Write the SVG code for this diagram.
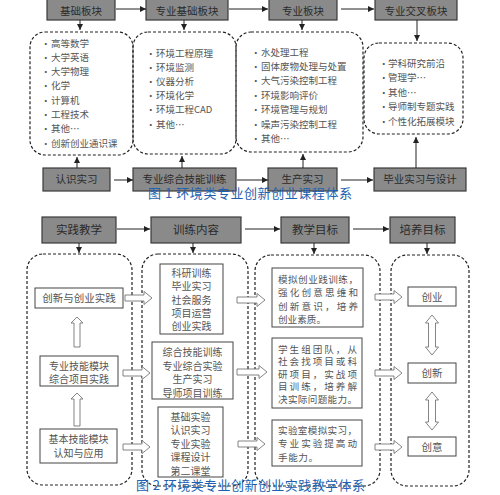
<svg xmlns="http://www.w3.org/2000/svg" width="500" height="495" viewBox="0 0 500 495">
<defs>
<style>
text { font-family: "Noto Sans CJK SC", "Noto Sans", sans-serif; }
.hdr { fill:#8a8a8a; stroke:#3a3a3a; stroke-width:1.2; }
.ht { font-size:10.5px; fill:#2a2a2a; text-anchor:middle; }
.ht2 { font-size:11.5px; fill:#2a2a2a; text-anchor:middle; }
.dash { fill:none; stroke:#222; stroke-width:1.2; stroke-dasharray:3 2; }
.t { font-size:9.5px; fill:#555; }
.tc { font-size:10px; fill:#555; text-anchor:middle; }
.tj { font-size:9.6px; fill:#555; }
.ib { fill:#fff; stroke:#444; stroke-width:1; }
.hol { fill:#fff; stroke:#666; stroke-width:0.8; }
.ln { stroke:#222; stroke-width:1; fill:none; }
.cap { font-size:13px; fill:#2060b0; }
</style>
<marker id="ah" viewBox="0 0 10 10" refX="10" refY="5" markerWidth="6" markerHeight="6" orient="auto" markerUnits="userSpaceOnUse">
<path d="M0,0 L10,5 L0,10 Z" fill="#222"/>
</marker>
</defs>

<!-- ===== Figure 1 ===== -->
<g id="n-jichu"><rect class="hdr" x="47" y="-4" width="68" height="24"/><text class="ht" x="81" y="14.5">基础板块</text></g>
<g id="n-zyjc"><rect class="hdr" x="146" y="-4" width="82" height="24"/><text class="ht" x="187" y="14.5">专业基础板块</text></g>
<g id="n-zy"><rect class="hdr" x="269" y="-4" width="68" height="24"/><text class="ht" x="303" y="14.5">专业板块</text></g>
<g id="n-jc"><rect class="hdr" x="375" y="-4" width="82" height="24"/><text class="ht" x="416" y="14.5">专业交叉板块</text></g>

<g id="n-box1">
<rect class="dash" x="30" y="32" width="103" height="123" rx="15"/>
<g class="t">
<text x="41" y="46.5">•</text><text x="51" y="46.5">高等数学</text>
<text x="41" y="60.8">•</text><text x="51" y="60.8">大学英语</text>
<text x="41" y="75.1">•</text><text x="51" y="75.1">大学物理</text>
<text x="41" y="89.4">•</text><text x="51" y="89.4">化学</text>
<text x="41" y="103.7">•</text><text x="51" y="103.7">计算机</text>
<text x="41" y="118">•</text><text x="51" y="118">工程技术</text>
<text x="41" y="132.3">•</text><text x="51" y="132.3">其他…</text>
<text x="41" y="146.6">•</text><text x="51" y="146.6">创新创业通识课</text>
</g>
</g>
<g id="n-box2">
<rect class="dash" x="133" y="32" width="103" height="122" rx="15"/>
<g class="t">
<text x="146" y="56.5">•</text><text x="156" y="56.5">环境工程原理</text>
<text x="146" y="70.7">•</text><text x="156" y="70.7">环境监测</text>
<text x="146" y="84.9">•</text><text x="156" y="84.9">仪器分析</text>
<text x="146" y="99.1">•</text><text x="156" y="99.1">环境化学</text>
<text x="146" y="113.3">•</text><text x="156" y="113.3">环境工程CAD</text>
<text x="146" y="127.5">•</text><text x="156" y="127.5">其他…</text>
</g>
</g>
<g id="n-box3">
<rect class="dash" x="236" y="32" width="127" height="120" rx="15"/>
<g class="t">
<text x="251" y="55.5">•</text><text x="261" y="55.5">水处理工程</text>
<text x="251" y="69.9">•</text><text x="261" y="69.9">固体废物处理与处置</text>
<text x="251" y="84.3">•</text><text x="261" y="84.3">大气污染控制工程</text>
<text x="251" y="98.7">•</text><text x="261" y="98.7">环境影响评价</text>
<text x="251" y="113.1">•</text><text x="261" y="113.1">环境管理与规划</text>
<text x="251" y="127.5">•</text><text x="261" y="127.5">噪声污染控制工程</text>
<text x="251" y="141.9">•</text><text x="261" y="141.9">其他…</text>
</g>
</g>
<g id="n-box4">
<rect class="dash" x="364" y="43" width="99" height="91" rx="15"/>
<g class="t">
<text x="379" y="66.5">•</text><text x="388" y="66.5">学科研究前沿</text>
<text x="379" y="81">•</text><text x="388" y="81">管理学…</text>
<text x="379" y="95.5">•</text><text x="388" y="95.5">其他…</text>
<text x="379" y="110">•</text><text x="388" y="110">导师制专题实践</text>
<text x="379" y="124.5">•</text><text x="388" y="124.5">个性化拓展模块</text>
</g>
</g>

<g id="n-rszx"><rect class="hdr" x="43" y="168" width="67" height="23"/><text class="ht" x="76.5" y="183">认识实习</text></g>
<g id="n-zhjn"><rect class="hdr" x="133" y="168" width="103" height="23"/><text class="ht" x="184.5" y="183">专业综合技能训练</text></g>
<g id="n-scsx"><rect class="hdr" x="268" y="168" width="69" height="23"/><text class="ht" x="302.5" y="183">生产实习</text></g>
<g id="n-bysx"><rect class="hdr" x="374" y="168" width="92" height="23"/><text class="ht" x="420" y="183">毕业实习与设计</text></g>

<g id="connectors-1">
<line class="ln" x1="116" y1="9" x2="146" y2="9" marker-end="url(#ah)"/>
<line class="ln" x1="229" y1="9" x2="268" y2="9" marker-end="url(#ah)"/>
<line class="ln" x1="341" y1="9" x2="374" y2="9" marker-end="url(#ah)"/>
<line class="ln" x1="80" y1="20" x2="80" y2="30" marker-end="url(#ah)"/>
<line class="ln" x1="184" y1="20" x2="184" y2="30" marker-end="url(#ah)"/>
<line class="ln" x1="302" y1="20" x2="302" y2="30" marker-end="url(#ah)"/>
<line class="ln" x1="417" y1="20" x2="417" y2="41" marker-end="url(#ah)"/>
<line class="ln" x1="77" y1="168" x2="77" y2="157" marker-end="url(#ah)"/>
<line class="ln" x1="182" y1="168" x2="182" y2="156" marker-end="url(#ah)"/>
<line class="ln" x1="303" y1="168" x2="303" y2="154" marker-end="url(#ah)"/>
<line class="ln" x1="416" y1="168" x2="416" y2="137" marker-end="url(#ah)"/>
<line class="ln" x1="114" y1="180" x2="133" y2="180" marker-end="url(#ah)"/>
<line class="ln" x1="237" y1="180" x2="268" y2="180" marker-end="url(#ah)"/>
<line class="ln" x1="341" y1="180" x2="373" y2="180" marker-end="url(#ah)"/>
</g>

<text class="cap" x="148" y="198" textLength="204" lengthAdjust="spacing">图 1 环境类专业创新创业课程体系</text>

<!-- ===== Figure 2 ===== -->
<g id="n-sjjx"><rect class="hdr" x="42" y="217" width="74" height="26"/><text class="ht2" x="79" y="234">实践教学</text></g>
<g id="n-xlnr"><rect class="hdr" x="151" y="217" width="90" height="26"/><text class="ht2" x="196" y="234">训练内容</text></g>
<g id="n-jxmb"><rect class="hdr" x="281" y="217" width="68" height="26"/><text class="ht2" x="315" y="234">教学目标</text></g>
<g id="n-pymb"><rect class="hdr" x="390" y="217" width="65" height="26"/><text class="ht2" x="422.5" y="234">培养目标</text></g>

<g id="n-colA">
<rect class="dash" x="27" y="254" width="105" height="231" rx="16"/>
</g>
<g id="n-cxcy"><rect class="ib" x="35" y="288" width="88" height="20"/><text class="tc" x="79" y="301.5" style="font-size:10.5px">创新与创业实践</text></g>
<g id="n-zyjn"><rect class="ib" x="40" y="356" width="78" height="30"/><text class="tc" x="79" y="370">专业技能模块</text><text class="tc" x="79" y="382.5">综合项目实践</text></g>
<g id="n-jbjn"><rect class="ib" x="40" y="429" width="77" height="34"/><text class="tc" x="78.5" y="442.5">基本技能模块</text><text class="tc" x="78.5" y="456.5">认知与应用</text></g>

<g id="n-colB">
<rect class="dash" x="142" y="254" width="106" height="232" rx="16"/>
</g>
<g id="n-kyxl"><rect class="ib" x="160" y="264" width="63" height="70"/>
<text class="tc" x="191.5" y="277">科研训练</text><text class="tc" x="191.5" y="290.3">毕业实习</text><text class="tc" x="191.5" y="303.6">社会服务</text><text class="tc" x="191.5" y="316.9">项目运营</text><text class="tc" x="191.5" y="330.2">创业实践</text></g>
<g id="n-zhjnxl"><rect class="ib" x="152" y="342" width="81" height="57"/>
<text class="tc" x="192.5" y="356">综合技能训练</text><text class="tc" x="192.5" y="369.5">专业综合实验</text><text class="tc" x="192.5" y="383">生产实习</text><text class="tc" x="192.5" y="396.5">导师项目训练</text></g>
<g id="n-jcsy"><rect class="ib" x="158" y="407" width="65" height="70"/>
<text class="tc" x="190.5" y="420.5">基础实验</text><text class="tc" x="190.5" y="434">认识实习</text><text class="tc" x="190.5" y="447.5">专业实验</text><text class="tc" x="190.5" y="461">课程设计</text><text class="tc" x="190.5" y="474.5">第二课堂</text></g>

<g id="n-colC">
<rect class="dash" x="255" y="255" width="125" height="231" rx="16"/>
</g>
<g id="n-mncy"><rect class="ib" x="272" y="268" width="91" height="59"/>
<g class="tj">
<text x="278" y="282.5" textLength="80" lengthAdjust="spacing">模拟创业践训练，</text>
<text x="278" y="296" textLength="80" lengthAdjust="spacing">强化创意思维和</text>
<text x="278" y="309.5" textLength="80" lengthAdjust="spacing">创新意识，培养</text>
<text x="278" y="323" textLength="48" lengthAdjust="spacing">创业素质。</text>
</g></g>
<g id="n-xszt"><rect class="ib" x="272" y="338" width="90" height="70"/>
<g class="tj">
<text x="278" y="352.5" textLength="79" lengthAdjust="spacing">学生组团队，从</text>
<text x="278" y="365" textLength="79" lengthAdjust="spacing">社会找项目或科</text>
<text x="278" y="377.5" textLength="79" lengthAdjust="spacing">研项目，实战项</text>
<text x="278" y="390" textLength="79" lengthAdjust="spacing">目训练，培养解</text>
<text x="278" y="402.5" textLength="79" lengthAdjust="spacing">决实际问题能力。</text>
</g></g>
<g id="n-syms"><rect class="ib" x="272" y="420" width="90" height="46"/>
<g class="tj">
<text x="278" y="433.5" textLength="79" lengthAdjust="spacing">实验室模拟实习，</text>
<text x="278" y="447" textLength="79" lengthAdjust="spacing">专业实验提高动</text>
<text x="278" y="460.5" textLength="40" lengthAdjust="spacing">手能力。</text>
</g></g>

<g id="n-colD">
<rect class="dash" x="391" y="255" width="78" height="231" rx="16"/>
</g>
<g id="n-cy"><rect class="ib" x="408" y="287" width="48" height="19"/><text class="tc" x="432" y="300.5" style="font-size:10.5px">创业</text></g>
<g id="n-cx"><rect class="ib" x="408" y="363" width="48" height="20"/><text class="tc" x="432" y="377" style="font-size:10.5px">创新</text></g>
<g id="n-cyi"><rect class="ib" x="408" y="437" width="48" height="19"/><text class="tc" x="432" y="450.5" style="font-size:10.5px">创意</text></g>

<g id="connectors-2">
<line class="ln" x1="117" y1="229" x2="150" y2="229" marker-end="url(#ah)"/>
<line class="ln" x1="245" y1="229" x2="280" y2="229" marker-end="url(#ah)"/>
<line class="ln" x1="353" y1="229" x2="389" y2="229" marker-end="url(#ah)"/>
<line class="ln" x1="79" y1="243" x2="79" y2="253" marker-end="url(#ah)"/>
<line class="ln" x1="193" y1="243" x2="193" y2="253" marker-end="url(#ah)"/>
<line class="ln" x1="314" y1="243" x2="314" y2="254" marker-end="url(#ah)"/>
<line class="ln" x1="427" y1="243" x2="427" y2="254" marker-end="url(#ah)"/>
<path class="hol" d="M74,347 V323 H71 L77,317 L83,323 H80 V347 Z"/>
<path class="hol" d="M74,426 V399 H71 L77,393 L83,399 H80 V426 Z"/>
<path class="hol" d="M125,295 H144 V291.5 L152,298 L144,304.5 V301 H125 Z"/>
<path class="hol" d="M123,370 H142 V366.5 L150,373 L142,379.5 V376 H123 Z"/>
<path class="hol" d="M123,444 H142 V440.5 L150,447 L142,453.5 V450 H123 Z"/>
<path class="hol" d="M237,297 H257 V293.5 L265,300 L257,306.5 V303 H237 Z"/>
<path class="hol" d="M237,369 H259 V365.5 L267,372 L259,378.5 V375 H237 Z"/>
<path class="hol" d="M238,441 H257 V437.5 L265,444 L257,450.5 V447 H238 Z"/>
<path class="hol" d="M375,294 H394 V290.5 L402,297 L394,303.5 V300 H375 Z"/>
<path class="hol" d="M375,370 H394 V366.5 L402,373 L394,379.5 V376 H375 Z"/>
<path class="hol" d="M375,444 H394 V440.5 L402,447 L394,453.5 V450 H375 Z"/>
<path class="hol" d="M432,315 L438.5,323 H435.5 V347 H438.5 L432,355 L425.5,347 H428.5 V323 H425.5 Z"/>
<path class="hol" d="M432,392 L438.5,400 H435.5 V422 H438.5 L432,430 L425.5,422 H428.5 V400 H425.5 Z"/>
</g>

<text class="cap" x="136" y="490" textLength="229" lengthAdjust="spacing">图 2 环境类专业创新创业实践教学体系</text>
</svg>
